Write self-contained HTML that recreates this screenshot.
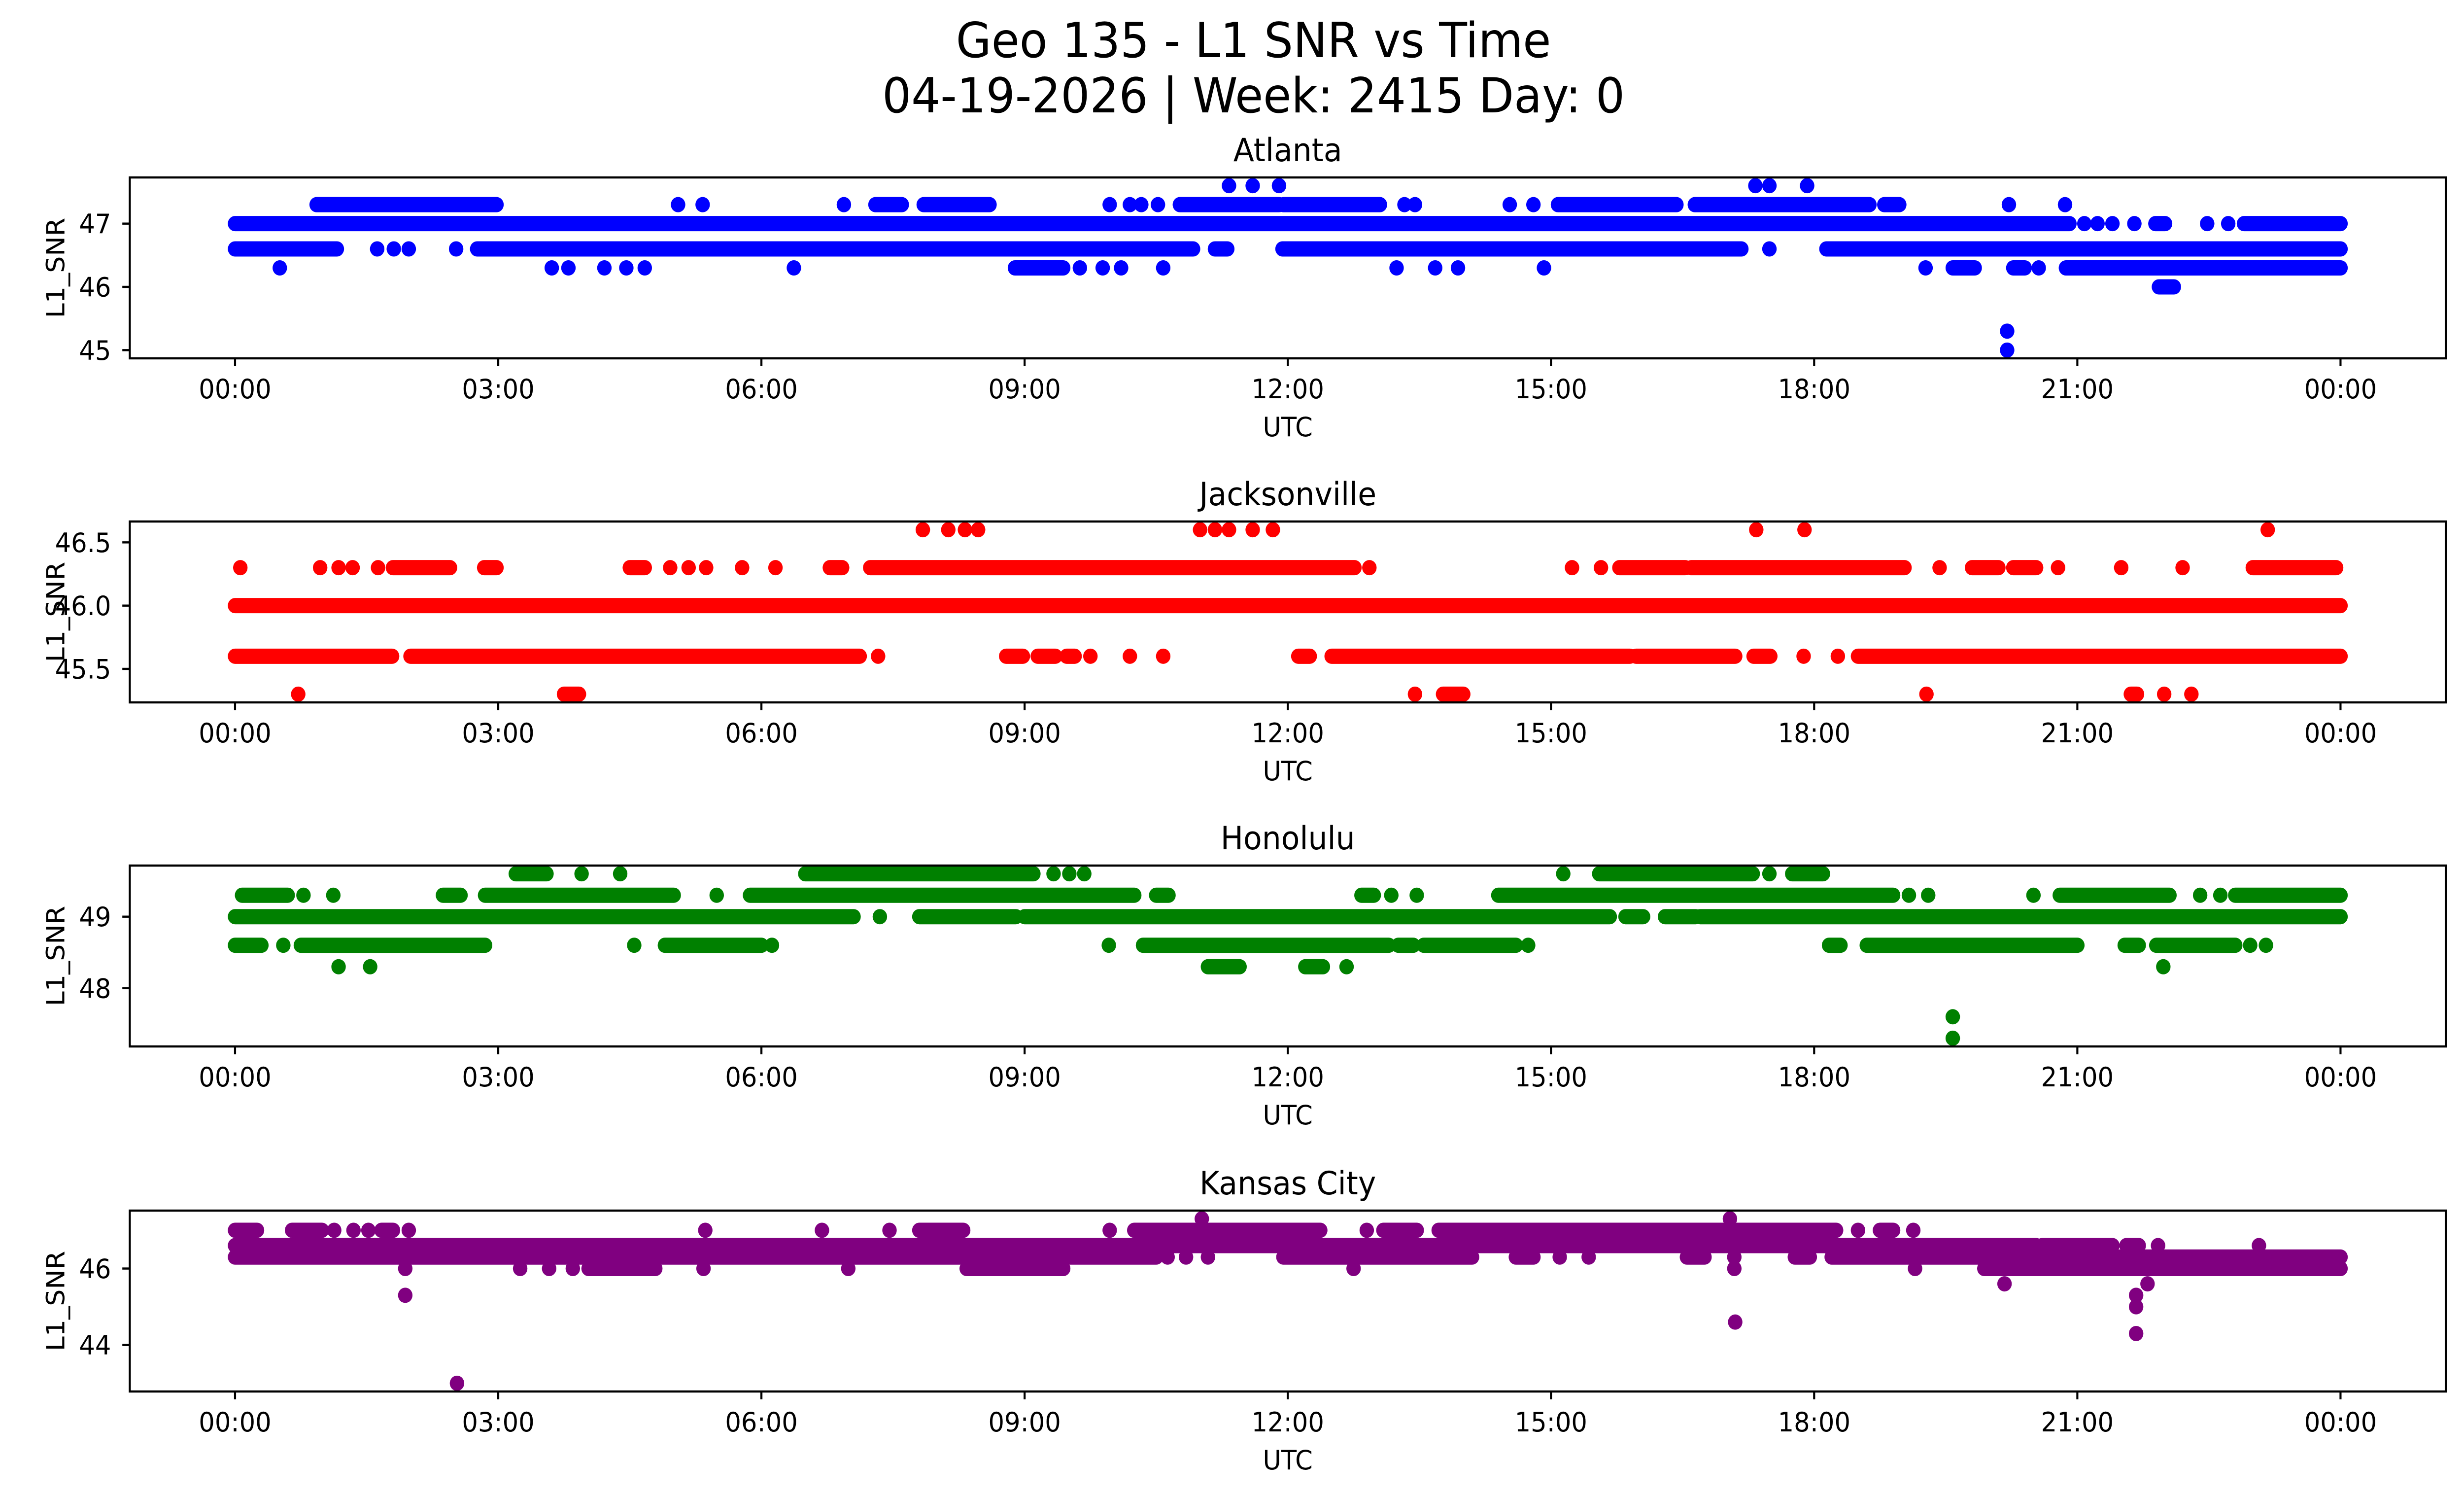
<!DOCTYPE html>
<html>
<head>
<meta charset="utf-8">
<style>
html,body{margin:0;padding:0;background:#fff;overflow:hidden;width:100vw;height:100vh;}
svg{display:block;width:100vw;height:100vh;}
text{font-family:"DejaVu Sans","Liberation Sans",sans-serif;fill:#000;}
</style>
</head>
<body>
<svg id="fig" viewBox="0 0 5278 3033" preserveAspectRatio="none" xmlns="http://www.w3.org/2000/svg">
<rect x="0" y="0" width="5278" height="3033" fill="#fff"/>
<text x="2685" y="116" font-size="98" text-anchor="middle">Geo 135 - L1 SNR vs Time</text>
<text x="2685" y="228" font-size="98" text-anchor="middle">04-19-2026 | Week: 2415 Day: 0</text>
</svg>
<script>
// ---- Shared axis data ----
const xTickHours = [0, 3, 6, 9, 12, 15, 18, 21, 24];
const xTickLabels = ["00:00","03:00","06:00","09:00","12:00","15:00","18:00","21:00","00:00"];

// ---- Atlanta ----
const atlLevels = [47.6, 47.3, 47.0, 46.6, 46.3, 46.0, 45.3, 45.0];
const atlRuns = [
  [[11.33,11.33],[11.6,11.6],[11.9,11.9],[17.33,17.33],[17.49,17.49],[17.92,17.92]],
  [[0.93,2.98],[5.05,5.05],[5.33,5.33],[6.94,6.94],[7.3,7.6],[7.85,8.6],[9.97,9.97],[10.2,10.2],[10.33,10.33],[10.52,10.52],[10.77,11.9],[11.95,13.05],[13.33,13.33],[13.45,13.45],[14.53,14.53],[14.8,14.8],[15.08,16.43],[16.64,18.63],[18.8,18.97],[20.22,20.22],[20.86,20.86]],
  [[0.0,20.91],[21.08,21.08],[21.23,21.23],[21.4,21.4],[21.65,21.65],[21.89,22.0],[22.48,22.48],[22.72,22.72],[22.9,24.0]],
  [[0.0,1.16],[1.62,1.62],[1.81,1.81],[1.98,1.98],[2.52,2.52],[2.76,10.92],[11.17,11.31],[11.94,17.17],[17.49,17.49],[18.14,24.0]],
  [[0.51,0.51],[3.61,3.61],[3.8,3.8],[4.21,4.21],[4.46,4.46],[4.67,4.67],[6.37,6.37],[8.89,9.44],[9.63,9.63],[9.89,9.89],[10.1,10.1],[10.58,10.58],[13.24,13.24],[13.68,13.68],[13.94,13.94],[14.92,14.92],[19.27,19.27],[19.58,19.83],[20.27,20.4],[20.56,20.56],[20.87,24.0]],
  [[21.93,22.1]],
  [[20.2,20.2]],
  [[20.2,20.2]]
];
const atlYTicks = [45, 46, 47];
const atlYTickLabels = ["45","46","47"];

// ---- Jacksonville ----
const jaxLevels = [46.6, 46.3, 46.0, 45.6, 45.3];
const jaxRuns = [
  [[7.84,7.84],[8.13,8.13],[8.32,8.32],[8.47,8.47],[11.0,11.0],[11.17,11.17],[11.33,11.33],[11.6,11.6],[11.83,11.83],[17.34,17.34],[17.89,17.89],[23.17,23.17]],
  [[0.06,0.06],[0.97,0.97],[1.18,1.18],[1.34,1.34],[1.63,1.63],[1.8,2.45],[2.84,2.98],[4.5,4.67],[4.96,4.96],[5.17,5.17],[5.37,5.37],[5.78,5.78],[6.16,6.16],[6.78,6.92],[7.24,12.76],[12.93,12.93],[15.24,15.24],[15.57,15.57],[15.78,16.53],[16.6,19.03],[19.43,19.43],[19.8,20.1],[20.27,20.53],[20.78,20.78],[21.5,21.5],[22.2,22.2],[23.0,23.95]],
  [[0.0,24.0]],
  [[0.0,1.79],[2.0,7.12],[7.33,7.33],[8.79,8.98],[9.15,9.35],[9.48,9.57],[9.75,9.75],[10.2,10.2],[10.58,10.58],[12.12,12.25],[12.5,15.9],[15.97,17.1],[17.31,17.5],[17.88,17.88],[18.27,18.27],[18.5,24.0]],
  [[0.72,0.72],[3.75,3.92],[13.45,13.45],[13.77,14.0],[19.28,19.28],[21.61,21.68],[21.99,21.99],[22.3,22.3]]
];
const jaxYTicks = [45.5, 46.0, 46.5];
const jaxYTickLabels = ["45.5","46.0","46.5"];

// ---- Honolulu ----
const hnlLevels = [49.6, 49.3, 49.0, 48.6, 48.3, 47.6, 47.3];
const hnlRuns = [
  [[3.2,3.55],[3.95,3.95],[4.39,4.39],[6.5,9.1],[9.33,9.33],[9.51,9.51],[9.68,9.68],[15.14,15.14],[15.55,17.3],[17.49,17.49],[17.75,18.1]],
  [[0.08,0.6],[0.78,0.78],[1.12,1.12],[2.37,2.57],[2.85,5.0],[5.49,5.49],[5.87,10.25],[10.5,10.64],[12.84,12.98],[13.18,13.18],[13.47,13.47],[14.4,18.9],[19.08,19.08],[19.3,19.3],[20.5,20.5],[20.8,22.05],[22.4,22.4],[22.63,22.63],[22.8,24.0]],
  [[0.0,7.05],[7.35,7.35],[7.8,8.9],[9.0,15.67],[15.85,16.05],[16.3,16.65],[16.7,24.0]],
  [[0.0,0.3],[0.55,0.55],[0.75,2.85],[4.55,4.55],[4.9,6.0],[6.12,6.12],[9.96,9.96],[10.35,13.15],[13.26,13.43],[13.55,14.6],[14.74,14.74],[18.17,18.3],[18.6,21.0],[21.54,21.7],[21.9,22.8],[22.97,22.97],[23.15,23.15]],
  [[1.18,1.18],[1.54,1.54],[11.09,11.45],[12.2,12.4],[12.67,12.67],[21.98,21.98]],
  [[19.58,19.58]],
  [[19.58,19.58]]
];
const hnlYTicks = [48, 49];
const hnlYTickLabels = ["48","49"];

// ---- Kansas City ----
const mciLevels = [47.3, 47.0, 46.6, 46.3, 46.0, 45.6, 45.3, 45.0, 44.6, 44.3, 43.0];
const mciRuns = [
  [[11.02,11.02],[17.04,17.04]],
  [[0.0,0.25],[0.65,0.99],[1.13,1.13],[1.35,1.35],[1.52,1.52],[1.67,1.8],[1.98,1.98],[5.36,5.36],[6.69,6.69],[7.46,7.46],[7.8,8.3],[9.97,9.97],[10.25,12.37],[12.9,12.9],[13.09,13.47],[13.72,18.25],[18.5,18.5],[18.75,18.9],[19.13,19.13]],
  [[0.0,20.53],[20.6,21.4],[21.56,21.7],[21.92,21.92],[23.07,23.07]],
  [[0.0,10.5],[10.63,10.63],[10.84,10.84],[11.09,11.09],[11.95,14.1],[14.6,14.8],[15.1,15.1],[15.43,15.43],[16.55,16.75],[17.09,17.09],[17.78,17.95],[18.2,24.0]],
  [[1.94,1.94],[3.25,3.25],[3.58,3.58],[3.85,3.85],[4.03,4.79],[5.34,5.34],[6.99,6.99],[8.34,9.44],[12.75,12.75],[17.09,17.09],[19.15,19.15],[19.94,24.0]],
  [[20.17,20.17],[21.8,21.8]],
  [[1.94,1.94],[21.67,21.67]],
  [[21.67,21.67]],
  [[17.1,17.1]],
  [[21.67,21.67]],
  [[2.53,2.53]]
];
const mciYTicks = [44, 46];
const mciYTickLabels = ["44","46"];

// ---- Panels ----
const panelNames = ["Atlanta","Jacksonville","Honolulu","Kansas City"];
const panelSlugs = ["atlanta","jacksonville","honolulu","kansas-city"];
const panelColors = ["#0000ff","#ff0000","#008000","#800080"];
const panelLevels = [atlLevels, jaxLevels, hnlLevels, mciLevels];
const panelRuns = [atlRuns, jaxRuns, hnlRuns, mciRuns];
const panelYTicks = [atlYTicks, jaxYTicks, hnlYTicks, mciYTicks];
const panelYTickLabels = [atlYTickLabels, jaxYTickLabels, hnlYTickLabels, mciYTickLabels];

const NS = "http://www.w3.org/2000/svg";
const svg = document.getElementById("fig");
const AX_L = 278, AX_R = 5239, AX_H = 367;
const AX_TOPS = [360, 1058, 1756, 2456];
const XMIN = -1.2, XMAX = 25.2;
const MR = 15.5;

function mk(tag, attrs, parent) {
  const e = document.createElementNS(NS, tag);
  for (const k in attrs) e.setAttribute(k, attrs[k]);
  (parent || svg).appendChild(e);
  return e;
}
function xScale(h) { return AX_L + (h - XMIN) / (XMAX - XMIN) * (AX_R - AX_L); }

for (let p = 0; p < 4; p++) {
  const top = AX_TOPS[p], bot = top + AX_H;
  const levels = panelLevels[p], runs = panelRuns[p];
  let lo = Infinity, hi = -Infinity;
  levels.forEach((v, i) => { if (runs[i].length) { lo = Math.min(lo, v); hi = Math.max(hi, v); } });
  const pad = (hi - lo) * 0.05;
  const ymin = lo - pad, ymax = hi + pad;
  const yScale = v => bot - (v - ymin) / (ymax - ymin) * AX_H;

  const g = mk("g", {});
  
  

  const title = mk("text", {x: (AX_L + AX_R) / 2, y: top - 33, "font-size": 65, "text-anchor": "middle"}, g);
  
  
  title.textContent = panelNames[p];

  const clipId = "clip" + p;
  const cp = mk("clipPath", {id: clipId}, g);
  mk("rect", {x: AX_L, y: top, width: AX_R - AX_L, height: AX_H}, cp);

  const series = mk("g", {"clip-path": "url(#" + clipId + ")"}, g);
  
  
  levels.forEach((v, i) => {
    const y = yScale(v);
    runs[i].forEach(r => {
      let m;
      if (r[0] === r[1]) {
        m = mk("circle", {cx: xScale(r[0]), cy: y, r: MR, fill: panelColors[p]}, series);
        
      } else {
        m = mk("line", {x1: xScale(r[0]), x2: xScale(r[1]), y1: y, y2: y, stroke: panelColors[p], "stroke-width": MR * 2, "stroke-linecap": "round"}, series);
        
      }
      
    });
  });

  const frame = mk("rect", {x: AX_L, y: top, width: AX_R - AX_L, height: AX_H, fill: "none", stroke: "#000", "stroke-width": 4.4}, g);
  
  

  xTickHours.forEach((h, i) => {
    const x = xScale(h);
    const t = mk("line", {x1: x, x2: x, y1: bot, y2: bot + 16, stroke: "#000", "stroke-width": 4.4}, g);
    
    
    const lb = mk("text", {x: x, y: bot + 81, "font-size": 54, "text-anchor": "middle"}, g);
    
    
    lb.textContent = xTickLabels[i];
  });
  const xl = mk("text", {x: (AX_L + AX_R) / 2, y: bot + 158, "font-size": 54, "text-anchor": "middle"}, g);
  
  
  xl.textContent = "UTC";

  panelYTicks[p].forEach((v, i) => {
    const y = yScale(v);
    const t = mk("line", {x1: AX_L - 16, x2: AX_L, y1: y, y2: y, stroke: "#000", "stroke-width": 4.4}, g);
    
    
    const lb = mk("text", {x: 238, y: y + 19.5, "font-size": 54, "text-anchor": "end"}, g);
    
    
    lb.textContent = panelYTickLabels[p][i];
  });
  const yc = top + AX_H / 2;
  const yl = mk("text", {x: 138, y: yc, "font-size": 54, "text-anchor": "middle", transform: "rotate(-90 138 " + yc + ")"}, g);
  
  
  yl.textContent = "L1_SNR";
}
</script>
</body>
</html>
